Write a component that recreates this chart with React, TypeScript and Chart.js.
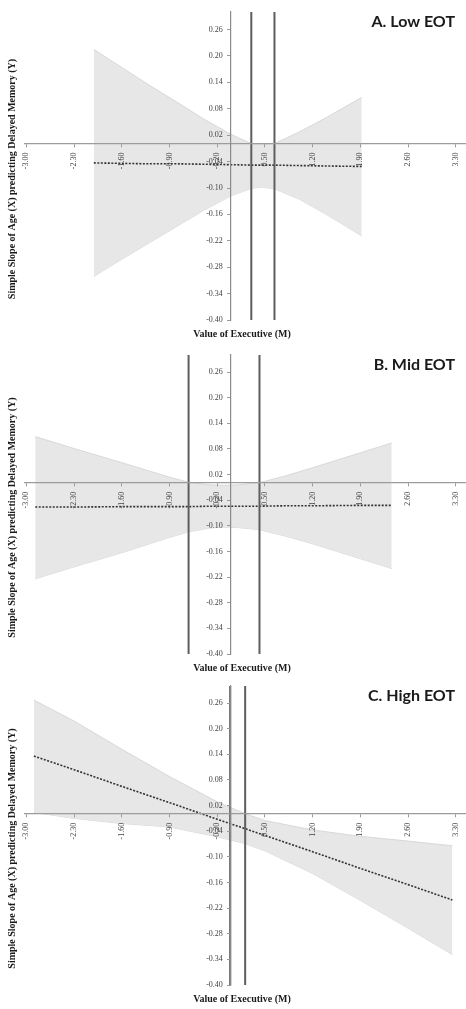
import React, { useEffect, useRef } from "react";
import { Chart, registerables } from "chart.js";

Chart.register(...registerables);

// Axis ticks
const X_TICKS = [-3.0, -2.3, -1.6, -0.9, -0.2, 0.5, 1.2, 1.9, 2.6, 3.3];
const Y_TICKS = [-0.4, -0.34, -0.28, -0.22, -0.16, -0.1, -0.04, 0.02, 0.08, 0.14, 0.2, 0.26];
const X_MIN = -3.02;
const X_MAX = 3.45;
const Y_MIN = -0.4;
const Y_MAX = 0.3;

const X_TITLE = "Value of Executive (M)";
const Y_TITLE = "Simple Slope of Age (X) predicting Delayed Memory (Y)";

// Panel A: Low EOT
const A_X = [-2.01, -1.6, -1.2, -0.8, -0.4, 0, 0.3, 0.45, 0.64, 1.0, 1.4, 1.92];
const A_SLOPE = [-0.043, -0.044, -0.045, -0.045, -0.046, -0.047, -0.048, -0.048, -0.048, -0.049, -0.05, -0.051];
const A_UPPER = [0.215, 0.174, 0.134, 0.096, 0.057, 0.022, 0.001, -0.002, 0.001, 0.027, 0.06, 0.106];
const A_LOWER = [-0.301, -0.262, -0.225, -0.188, -0.151, -0.118, -0.101, -0.098, -0.102, -0.125, -0.16, -0.209];
const A_JN = [0.3, 0.64];

// Panel B: Mid EOT
const B_X = [-2.87, -2.3, -1.6, -0.9, -0.62, -0.3, -0.1, 0.1, 0.42, 0.8, 1.2, 1.9, 2.36];
const B_SLOPE = [-0.056, -0.056, -0.055, -0.055, -0.055, -0.054, -0.054, -0.054, -0.054, -0.053, -0.053, -0.052, -0.052];
const B_UPPER = [0.109, 0.081, 0.048, 0.014, 0.002, -0.004, -0.005, -0.004, 0.001, 0.017, 0.036, 0.071, 0.094];
const B_LOWER = [-0.224, -0.196, -0.163, -0.127, -0.114, -0.105, -0.103, -0.104, -0.109, -0.124, -0.142, -0.177, -0.2];
const B_JN = [-0.62, 0.42];

// Panel C: High EOT
const C_X = [-2.89, -2.3, -1.6, -0.9, -0.2, 0.21, 0.5, 1.2, 1.9, 2.6, 3.25];
const C_SLOPE = [0.136, 0.104, 0.065, 0.027, -0.012, -0.034, -0.05, -0.088, -0.127, -0.165, -0.201];
const C_UPPER = [0.267, 0.218, 0.152, 0.088, 0.029, 0.001, -0.015, -0.037, -0.052, -0.063, -0.074];
const C_LOWER = [0.004, -0.01, -0.022, -0.03, -0.053, -0.069, -0.086, -0.139, -0.202, -0.267, -0.329];
const C_JN = [-0.01, 0.21];

type Panel = {
  title: string;
  xs: number[];
  slope: number[];
  upper: number[];
  lower: number[];
  jn: number[];
  height: number;
  padTop: number;
  padBottom: number;
};

const PANELS: Panel[] = [
  { title: "A. Low EOT", xs: A_X, slope: A_SLOPE, upper: A_UPPER, lower: A_LOWER, jn: A_JN, height: 340, padTop: 12, padBottom: 20 },
  { title: "B. Mid EOT", xs: B_X, slope: B_SLOPE, upper: B_UPPER, lower: B_LOWER, jn: B_JN, height: 335, padTop: 15, padBottom: 21 },
  { title: "C. High EOT", xs: C_X, slope: C_SLOPE, upper: C_UPPER, lower: C_LOWER, jn: C_JN, height: 334, padTop: 11, padBottom: 24 },
];

const pts = (xs: number[], ys: number[]) => xs.map((x, i) => ({ x, y: ys[i] }));

const TICK_FONT = { family: "'Liberation Serif', 'DejaVu Serif', serif", size: 8 };

function PanelChart({ p }: { p: Panel }) {
  const ref = useRef<HTMLCanvasElement | null>(null);
  useEffect(() => {
    if (!ref.current) return;
    const textPlugin = {
      id: "panelText",
      afterDraw(chart: any) {
        const { ctx, chartArea } = chart;
        ctx.save();
        ctx.fillStyle = "#1a1a1a";
        ctx.font = "bold 16px Lato, 'Open Sans', sans-serif";
        ctx.textAlign = "right";
        ctx.textBaseline = "alphabetic";
        ctx.fillText(p.title, 455, chartArea.top + 14.5);
        ctx.font = "bold 10px 'Liberation Serif', serif";
        ctx.textAlign = "center";
        ctx.fillText(X_TITLE, 242, chartArea.bottom + 17);
        ctx.translate(12, (chartArea.top + chartArea.bottom) / 2 + 13);
        ctx.rotate(-Math.PI / 2);
        ctx.textBaseline = "middle";
        ctx.fillText(Y_TITLE, 0, 0);
        ctx.restore();
      },
    };
    const datasets: any[] = [
      {
        data: pts(p.xs, p.lower),
        borderColor: "#d8d8d8",
        borderWidth: 1,
        pointRadius: 0,
        fill: false,
        tension: 0,
        order: 10,
      },
      {
        data: pts(p.xs, p.upper),
        borderColor: "#d8d8d8",
        borderWidth: 1,
        pointRadius: 0,
        fill: "-1",
        backgroundColor: "#e7e7e7",
        tension: 0,
        order: 9,
      },
      {
        data: pts(p.xs, p.slope),
        borderColor: "#333333",
        borderWidth: 1.6,
        borderDash: [2, 1.5],
        pointRadius: 0,
        fill: false,
        tension: 0,
        order: 1,
      },
      ...p.jn.map((x) => ({
        data: [
          { x, y: Y_MIN },
          { x, y: Y_MAX },
        ],
        borderColor: "#5e5e5e",
        borderWidth: 2,
        pointRadius: 0,
        fill: false,
        order: 0,
      })),
    ];
    const chart = new Chart(ref.current, {
      type: "line",
      data: { datasets },
      options: {
        animation: false,
        responsive: false,
        events: [],
        layout: { padding: { left: 25, right: 0, top: p.padTop, bottom: p.padBottom } },
        plugins: { legend: { display: false }, tooltip: { enabled: false } },
        scales: {
          x: {
            type: "linear",
            min: X_MIN,
            max: X_MAX,
            position: { y: 0 } as any,
            afterBuildTicks: (s: any) => {
              s.ticks = X_TICKS.map((v) => ({ value: v }));
            },
            ticks: {
              z: 2,
              autoSkip: false,
              minRotation: 90,
              maxRotation: 90,
              padding: 0,
              font: TICK_FONT,
              color: "#444",
              callback: (v: any) => Number(v).toFixed(2) + "\u2002\u2009",
            },
            grid: { z: 2, drawOnChartArea: false, drawTicks: true, tickLength: 3, color: "#9a9a9a" },
            border: { z: 2, display: true, color: "#9c9c9c", width: 1.3 },
          },
          y: {
            type: "linear",
            min: Y_MIN,
            max: Y_MAX,
            position: { x: 0 } as any,
            afterBuildTicks: (s: any) => {
              s.ticks = Y_TICKS.map((v) => ({ value: v }));
            },
            ticks: {
              z: 2,
              autoSkip: false,
              padding: 6,
              font: TICK_FONT,
              color: "#444",
              callback: (v: any) => Number(v).toFixed(2) + "\u2002\u2002",
            },
            grid: { z: 2, drawOnChartArea: false, drawTicks: true, tickLength: 3, color: "#9a9a9a" },
            border: { z: 2, display: true, color: "#8a8a8a", width: 1.2 },
          },
        },
      },
      plugins: [textPlugin],
    } as any);
    return () => chart.destroy();
  }, [p]);
  return (
    <canvas
      ref={ref}
      width={466}
      height={p.height}
      style={{ display: "block", width: 466, height: p.height }}
    />
  );
}

export default function App() {
  return (
    <div style={{ position: "absolute", left: 0, top: 0, width: 466, height: 1009, background: "#fff" }}>
      {PANELS.map((p) => (
        <PanelChart key={p.title} p={p} />
      ))}
    </div>
  );
}
